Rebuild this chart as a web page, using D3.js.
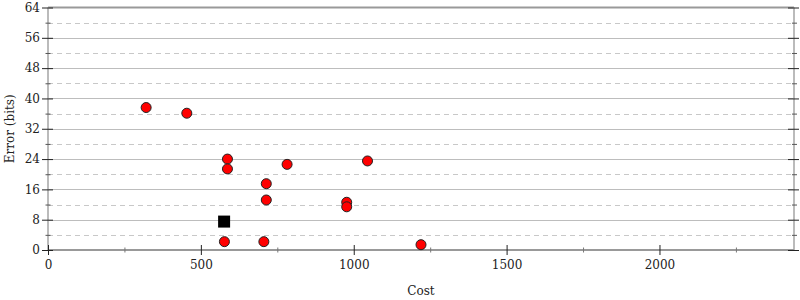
<!DOCTYPE html>
<html>
<head>
<meta charset="utf-8">
<script src="https://cdn.jsdelivr.net/npm/d3@7"></script>
<style>
  body { margin: 0; background: #fff; }
  text { font-family: "DejaVu Serif", serif; fill: #222; }
</style>
</head>
<body>
<div id="chart"></div>
<script>
// points
var costs = [321, 454, 587, 587, 714, 714, 782, 1045, 977, 977, 577, 706, 1220];
var errors = [37.6, 36.1, 24.0, 21.4, 17.5, 13.2, 22.6, 23.5, 12.6, 11.4, 2.2, 2.2, 1.4];
var bestCost = [576];
var bestError = [7.5];

var xMajor = [0, 500, 1000, 1500, 2000];
var xMinor = [250, 750, 1250, 1750, 2250];
var yMajor = [0, 8, 16, 24, 32, 40, 48, 56, 64];
var yMinor = [4, 12, 20, 28, 36, 44, 52, 60];

var width = 800, height = 300;
var plotL = 48, plotR = 794, plotT = 7.5, plotB = 250;

var svg = d3.select("#chart").append("svg")
    .attr("width", width)
    .attr("height", height);

var x = d3.scaleLinear().domain([0, 2440]).range([plotL, plotR]);
var y = d3.scaleLinear().domain([0, 64]).range([plotB, plotT]);

function snap(v) { return Math.round(v) + 0.5; }

// grid
var grid = svg.append("g");
grid.selectAll("line.major")
    .data(yMajor.slice(1, -1))
    .enter().append("line")
    .attr("x1", plotL).attr("x2", plotR)
    .attr("y1", function(d) { return snap(y(d)); })
    .attr("y2", function(d) { return snap(y(d)); })
    .attr("stroke", "#bdbdbd");
grid.selectAll("line.minor")
    .data(yMinor)
    .enter().append("line")
    .attr("x1", plotL).attr("x2", plotR)
    .attr("y1", function(d) { return snap(y(d)); })
    .attr("y2", function(d) { return snap(y(d)); })
    .attr("stroke", "#c8c8c8")
    .attr("stroke-dasharray", "5,4");

// frame
svg.append("line").attr("x1", plotL).attr("x2", plotR).attr("y1", plotT).attr("y2", plotT)
    .attr("stroke", "#999").attr("stroke-width", 2);
svg.append("line").attr("x1", plotL).attr("x2", plotL).attr("y1", plotT).attr("y2", plotB)
    .attr("stroke", "#bbb").attr("stroke-width", 2);
svg.append("line").attr("x1", plotR).attr("x2", plotR).attr("y1", plotT).attr("y2", plotB)
    .attr("stroke", "#bbb").attr("stroke-width", 2);
svg.append("line").attr("x1", plotL).attr("x2", plotR).attr("y1", plotB).attr("y2", plotB)
    .attr("stroke", "#999").attr("stroke-width", 2);

function styleAxis(g, color) {
    g.select(".domain").remove();
    g.selectAll(".tick line").attr("stroke", color);
    g.selectAll(".tick text")
        .style("font-family", "DejaVu Serif, serif")
        .style("font-size", "12px")
        .attr("fill", "#222");
}

// y axes (left)
var yLeft = svg.append("g")
    .attr("transform", "translate(" + (plotL + 5) + ",0)")
    .call(d3.axisLeft(y).tickValues(yMajor).tickSize(11).tickPadding(2).tickFormat(d3.format("d")));
styleAxis(yLeft, "#222");
var yLeftMinor = svg.append("g")
    .attr("transform", "translate(" + (plotL + 2.5) + ",0)")
    .call(d3.axisLeft(y).tickValues(yMinor).tickSize(5).tickFormat(""));
styleAxis(yLeftMinor, "#555");

// y axes (right)
var yRight = svg.append("g")
    .attr("transform", "translate(" + (plotR - 6) + ",0)")
    .call(d3.axisRight(y).tickValues(yMajor).tickSize(11).tickFormat(""));
styleAxis(yRight, "#222");
var yRightMinor = svg.append("g")
    .attr("transform", "translate(" + (plotR - 2) + ",0)")
    .call(d3.axisRight(y).tickValues(yMinor).tickSize(5).tickFormat(""));
styleAxis(yRightMinor, "#555");

// x axis
var xAxis = svg.append("g")
    .attr("transform", "translate(0," + (plotB - 5) + ")")
    .call(d3.axisBottom(x).tickValues(xMajor).tickSize(10).tickPadding(5).tickFormat(d3.format("d")));
styleAxis(xAxis, "#222");
var xAxisMinor = svg.append("g")
    .attr("transform", "translate(0," + (plotB - 2.5) + ")")
    .call(d3.axisBottom(x).tickValues(xMinor).tickSize(5).tickFormat(""));
styleAxis(xAxisMinor, "#777");

// labels
svg.append("text")
    .attr("x", (plotL + plotR) / 2)
    .attr("y", 295)
    .attr("text-anchor", "middle")
    .style("font-size", "12px")
    .text("Cost");
svg.append("text")
    .attr("transform", "translate(14," + ((plotT + plotB) / 2) + ") rotate(-90)")
    .attr("text-anchor", "middle")
    .style("font-size", "12px")
    .text("Error (bits)");

// points
svg.append("g").selectAll("circle")
    .data(costs)
    .enter().append("circle")
    .attr("cx", function(d) { return x(d); })
    .attr("cy", function(d, i) { return y(errors[i]); })
    .attr("r", 5)
    .attr("fill", "#f00")
    .attr("stroke", "#222")
    .attr("stroke-width", 1);

svg.append("g").selectAll("rect")
    .data(bestCost)
    .enter().append("rect")
    .attr("x", function(d) { return x(d) - 6; })
    .attr("y", function(d, i) { return y(bestError[i]) - 6; })
    .attr("width", 12)
    .attr("height", 12)
    .attr("fill", "#000");
</script>
</body>
</html>
